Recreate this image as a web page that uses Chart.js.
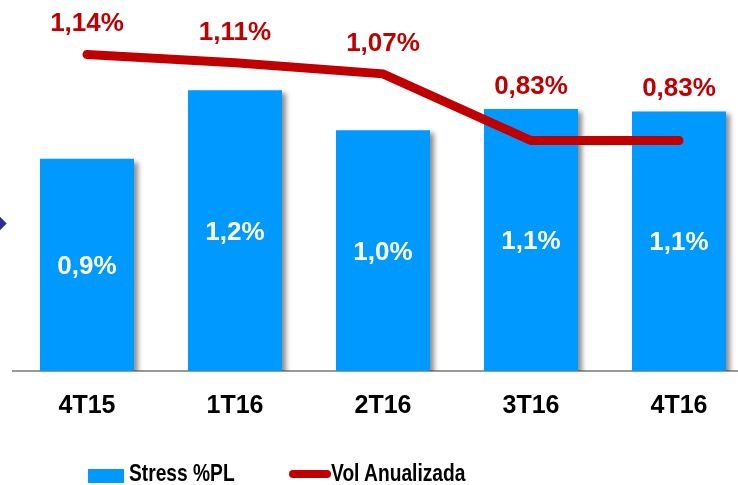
<!DOCTYPE html>
<html>
<head>
<meta charset="utf-8">
<script src="https://cdn.jsdelivr.net/npm/chart.js@4"></script>
<style>
  html, body { margin: 0; padding: 0; background: #fff; overflow: hidden; }
  #wrap { position: relative; width: 738px; height: 485px; overflow: hidden; }
  #box { position: absolute; left: 0; top: 0; width: 760px; height: 485px; }
  .lg { position: absolute; font-family: "Liberation Sans", Arial, sans-serif; font-weight: bold; font-size: 24px; line-height: 24px; color: #000; white-space: nowrap; transform: scaleX(0.8); transform-origin: 0 0; }
  #mark { position: absolute; left: -9px; top: 217px; width: 13px; height: 13px; background: #2e2e99; transform: rotate(45deg); }
</style>
</head>
<body>
<div id="wrap">
  <div id="box"><canvas id="chart"></canvas></div>
  <div id="mark"></div>
  <div style="position:absolute;left:88px;top:469px;width:36px;height:14px;background:#0099ff"></div>
  <div class="lg" style="left:129px;top:461px">Stress %PL</div>
  <div style="position:absolute;left:289px;top:470px;width:42px;height:8px;border-radius:4px;background:#c00000"></div>
  <div class="lg" style="left:331px;top:461px">Vol Anualizada</div>
</div>
<script>
const quarters = ["4T15", "1T16", "2T16", "3T16", "4T16"];
const stressPL = [0.90, 1.19, 1.02, 1.11, 1.10];
const volAnualizada = [1.14, 1.11, 1.07, 0.83, 0.83];

const fmt = (v, d) => v.toFixed(d).replace(".", ",") + "%";

const barShadow = {
  id: "barShadow",
  beforeDatasetDraw(chart, args) {
    if (args.meta.type !== "bar") return;
    const ctx = chart.ctx;
    ctx.save();
    ctx.shadowColor = "rgba(0,0,0,0.45)";
    ctx.shadowOffsetX = 4;
    ctx.shadowOffsetY = 3;
    ctx.shadowBlur = 5;
  },
  afterDatasetDraw(chart, args) {
    if (args.meta.type !== "bar") return;
    chart.ctx.restore();
  }
};

const valueLabels = {
  id: "valueLabels",
  afterDatasetsDraw(chart) {
    const ctx = chart.ctx;
    const bars = chart.getDatasetMeta(1).data;
    const pts = chart.getDatasetMeta(0).data;
    ctx.save();
    ctx.textAlign = "center";
    ctx.font = "bold 26px 'Liberation Sans', Arial, sans-serif";
    ctx.fillStyle = "#ffffff";
    ctx.textBaseline = "middle";
    bars.forEach((b, i) => {
      ctx.fillText(fmt(stressPL[i], 1), b.x, (b.y + b.base) / 2 + 2);
    });
    ctx.font = "bold 26px 'Liberation Sans', Arial, sans-serif";
    ctx.fillStyle = "#c00000";
    ctx.textBaseline = "alphabetic";
    pts.forEach((p, i) => {
      const top = bars[i].y;
      const y = top < p.y ? top - 15 : p.y - 23;
      ctx.fillText(fmt(volAnualizada[i], 2), p.x, y);
    });
    ctx.restore();
  }
};

new Chart(document.getElementById("chart"), {
  data: {
    labels: quarters,
    datasets: [
      {type: "line", label: "Vol Anualizada", data: volAnualizada, yAxisID: "y1", order: 0,
       borderColor: "#c00000", borderWidth: 9, borderCapStyle: "round", borderJoinStyle: "miter",
       pointRadius: 0, tension: 0, fill: false},
      {type: "bar", label: "Stress %PL", data: stressPL, yAxisID: "y", order: 1,
       backgroundColor: "#0099ff", borderWidth: 0, barPercentage: 0.635, categoryPercentage: 1}
    ]
  },
  options: {
    responsive: true, maintainAspectRatio: false, animation: false,
    layout: {padding: {left: 13, right: 7, top: 10, bottom: 52}},
    plugins: {legend: {display: false}, tooltip: {enabled: false}},
    scales: {
      x: {grid: {display: false}, border: {color: "#999", width: 2},
          ticks: {color: "#000", padding: 12, font: {family: "'Liberation Sans', Arial, sans-serif", size: 25, weight: "bold"}}},
      y: {display: false, min: 0, max: 1.53},
      y1: {display: false, min: 0, max: 1.30, position: "right"}
    }
  },
  plugins: [barShadow, valueLabels]
});
</script>
</body>
</html>
